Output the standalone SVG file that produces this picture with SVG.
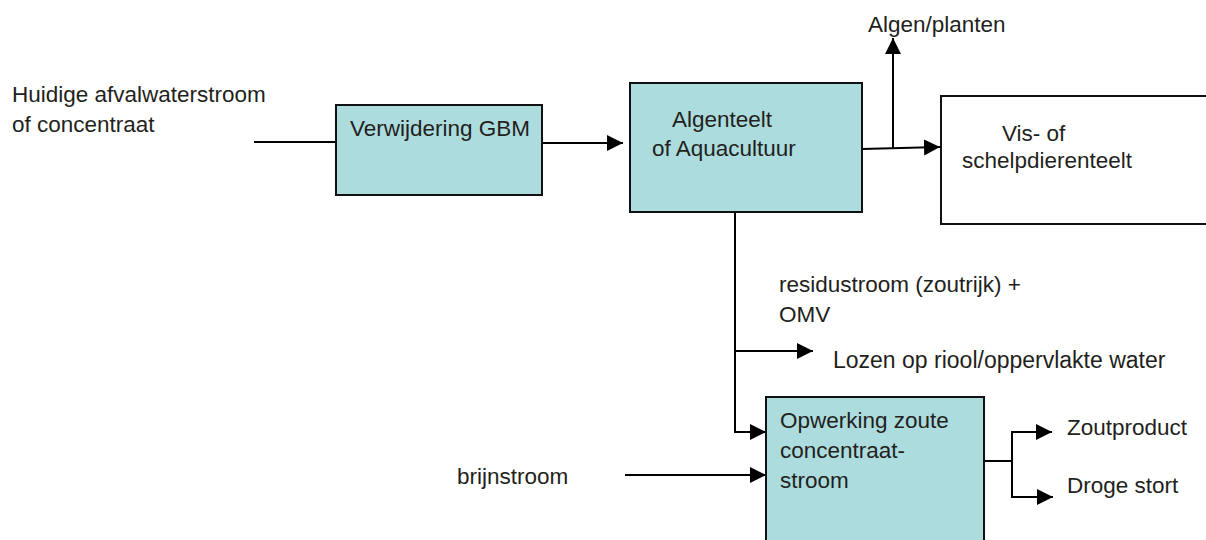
<svg xmlns="http://www.w3.org/2000/svg" width="1206" height="540" viewBox="0 0 1206 540">
<style>
text{font-family:"Liberation Sans",Arial,sans-serif;font-size:22.5px;fill:#231f20}
.box{fill:#acdcdd;stroke:#111;stroke-width:2}
.wbox{fill:#fff;stroke:#111;stroke-width:2}
.ln{fill:none;stroke:#000;stroke-width:2}
.ar{marker-end:url(#ah)}
</style>
<defs>
<marker id="ah" markerUnits="userSpaceOnUse" markerWidth="18" markerHeight="17" refX="16" refY="8" orient="auto">
<path d="M0,0 L16,8 L0,16 z" fill="#000"/>
</marker>
</defs>
<rect width="1206" height="540" fill="#fff"/>
<g id="connectors">
<path class="ln" d="M254,142 H336"/>
<path class="ln ar" d="M542,143 H623"/>
<path class="ln ar" d="M862,149 L940,147"/>
<path class="ln ar" d="M893,149 V38"/>
<path class="ln" d="M735,212 V351"/>
<path class="ln ar" d="M735,351 H813"/>
<path class="ln ar" d="M735,351 V432 H766"/>
<path class="ln ar" d="M625,475 H766"/>
<path class="ln" d="M984,461 H1012"/>
<path class="ln ar" d="M1012,461 V432 H1052"/>
<path class="ln ar" d="M1012,461 V497 H1053"/>
</g>
<g id="input-label">
<text x="12" y="102">Huidige afvalwaterstroom</text>
<text x="12" y="132">of concentraat</text>
</g>
<g id="verwijdering">
<rect class="box" x="336" y="105" width="206" height="90"/>
<text x="350" y="136">Verwijdering GBM</text>
</g>
<g id="algenteelt">
<rect class="box" x="630" y="83" width="232" height="129"/>
<text x="672" y="127">Algenteelt</text>
<text x="652" y="156">of Aquacultuur</text>
</g>
<g id="algen-label">
<text x="868" y="32">Algen/planten</text>
</g>
<g id="vis">
<rect class="wbox" x="941" y="96" width="280" height="128"/>
<text x="1002" y="141">Vis- of</text>
<text x="962" y="168">schelpdierenteelt</text>
</g>
<g id="residu-label">
<text x="779" y="292">residustroom (zoutrijk) +</text>
<text x="779" y="322">OMV</text>
</g>
<g id="lozen-label">
<text x="833" y="368" style="font-size:23px">Lozen op riool/oppervlakte water</text>
</g>
<g id="opwerking">
<rect class="box" x="766" y="397" width="218" height="160"/>
<text x="780" y="428">Opwerking zoute</text>
<text x="780" y="458">concentraat-</text>
<text x="780" y="488">stroom</text>
</g>
<g id="brijn-label">
<text x="457" y="484">brijnstroom</text>
</g>
<g id="zout-label">
<text x="1067" y="435">Zoutproduct</text>
</g>
<g id="droge-label">
<text x="1067" y="493">Droge stort</text>
</g>
</svg>
